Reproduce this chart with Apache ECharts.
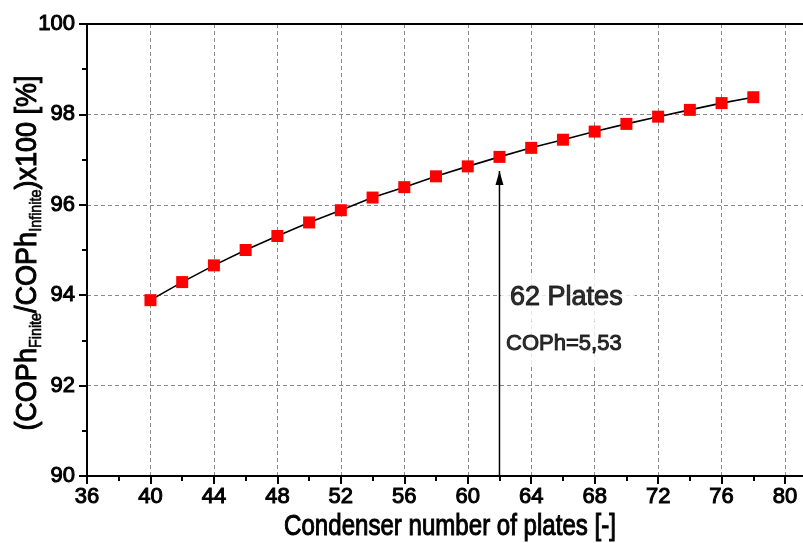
<!DOCTYPE html>
<html>
<head>
<meta charset="utf-8">
<script src="https://cdn.jsdelivr.net/npm/echarts@6/dist/echarts.min.js"></script>
<style>
  html, body { margin: 0; padding: 0; background: #ffffff; overflow: hidden; width: 803px; height: 543px; }
  /* the frame runs past the right edge of the page, so the plot is wider than the window */
  #chart { width: 850px; height: 543px; }
</style>
</head>
<body>
<div id="chart"></div>
<script>
// Condenser plate count vs. relative heating COP
const plates = [40, 42, 44, 46, 48, 50, 52, 54, 56, 58, 60, 62, 64, 66, 68, 70, 72, 74, 76, 78];
const copRatio = [93.89, 94.29, 94.66, 95.00, 95.31, 95.61, 95.88, 96.16, 96.39, 96.63,
                  96.85, 97.06, 97.26, 97.44, 97.62, 97.79, 97.95, 98.10, 98.25, 98.38];

// Highlighted design point
const selectedPlates = 62;
const arrowBase = 90;
const arrowTip = 96.75;
const noteTitle = '62 Plates';
const noteValue = 'COPh=5,53';

const xName = 'Condenser number of plates [-]';
const yName = '{m|(COPh}{s|Finite}{m|/COPh}{s|Infinite}{m|)x100 [%]}';

const labelFont = "'Liberation Sans', Arial, sans-serif";
const ink = { textBorderColor: '#000', textBorderWidth: 1 };

const chart = echarts.init(document.getElementById('chart'), null, { renderer: 'canvas' });

const gridLine = { show: true, lineStyle: { color: '#8a8a8a', width: 1, type: [4, 3] } };
const blackLine = { color: '#000000', width: 2 };

chart.setOption({
  animation: false,
  backgroundColor: '#ffffff',
  grid: { left: 87, top: 24, bottom: 67, right: 1.5, containLabel: false, outerBoundsMode: 'none' },
  xAxis: [
    {
      type: 'value', min: 36, max: 84, interval: 4, position: 'bottom',
      axisLine: { show: true, onZero: false, lineStyle: blackLine },
      axisTick: { show: true, inside: false, length: 8, lineStyle: blackLine },
      minorTick: { show: true, splitNumber: 2, length: 5, lineStyle: blackLine },
      axisLabel: Object.assign({ color: '#000', fontSize: 22, fontFamily: labelFont, margin: 10 }, ink),
      splitLine: gridLine
    },
    {
      type: 'value', min: 36, max: 84, position: 'top',
      axisLine: { show: true, onZero: false, lineStyle: blackLine },
      axisTick: { show: false }, axisLabel: { show: false }, splitLine: { show: false }
    }
  ],
  yAxis: {
    type: 'value', min: 90, max: 100, interval: 2,
    axisLine: { show: true, onZero: false, lineStyle: blackLine },
    axisTick: { show: true, inside: false, length: 8, lineStyle: blackLine },
    minorTick: { show: true, splitNumber: 2, length: 5, lineStyle: blackLine },
    axisLabel: Object.assign({ color: '#000', fontSize: 22, fontFamily: labelFont, margin: 12 }, ink),
    splitLine: gridLine
  },
  // axis titles, set in a condensed face
  graphic: [
    {
      type: 'text', x: 450, y: 527, scaleX: 0.83, z: 10,
      style: {
        text: xName, fill: '#000', fontSize: 29, fontFamily: labelFont,
        textAlign: 'center', textVerticalAlign: 'middle',
        stroke: '#000', lineWidth: 1
      }
    },
    {
      type: 'text', x: 28, y: 253, rotation: Math.PI / 2, scaleX: 0.9, z: 10,
      style: {
        text: yName, fill: '#000', fontSize: 30, fontFamily: labelFont,
        textAlign: 'center', textVerticalAlign: 'middle',
        stroke: '#000', lineWidth: 1,
        rich: {
          m: { fontSize: 30, fontFamily: labelFont, fill: '#000', stroke: '#000', lineWidth: 1 },
          s: { fontSize: 16, fontFamily: labelFont, fill: '#000', stroke: '#000', lineWidth: 0.6, padding: [17, 0, 0, 0] }
        }
      }
    }
  ],
  series: [
    {
      name: 'ratio',
      type: 'line',
      data: plates.map((p, i) => [p, copRatio[i]]),
      symbol: 'rect',
      symbolSize: 12,
      itemStyle: { color: '#ff0000' },
      lineStyle: { color: '#000000', width: 1.6 },
      z: 3
    },
    {
      name: 'arrow',
      type: 'line',
      data: [
        { value: [selectedPlates, arrowBase], symbol: 'none' },
        { value: [selectedPlates, arrowTip], symbol: 'triangle', symbolSize: [8, 14], symbolOffset: [0, 7] }
      ],
      showAllSymbol: true,
      itemStyle: { color: '#000000' },
      lineStyle: { color: '#000000', width: 1.5 },
      z: 4
    },
    {
      name: 'notes',
      type: 'scatter',
      symbolSize: 0,
      data: [
        { value: [62.1, 93.94], label: { formatter: noteTitle, fontSize: 27, color: '#000', padding: [10, 12, 10, 9] } },
        { value: [62.1, 92.92], label: { formatter: noteValue, fontSize: 22, color: '#000', padding: [9, 10, 9, 5] } }
      ],
      label: Object.assign({
        show: true, position: [0, 0], align: 'left', verticalAlign: 'middle',
        color: '#000', fontFamily: labelFont, backgroundColor: '#ffffff'
      }, ink),
      emphasis: { disabled: true },
      z: 2
    }
  ]
});
</script>
</body>
</html>
